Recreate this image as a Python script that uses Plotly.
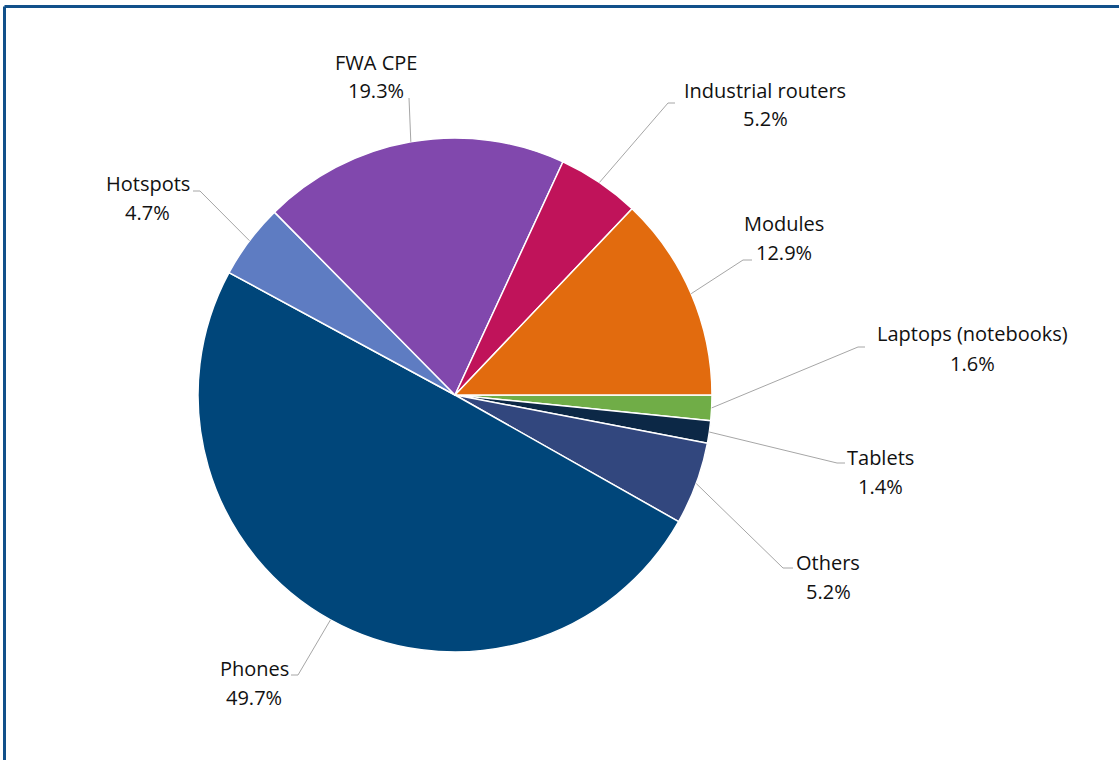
import math
import plotly.graph_objects as go

# Device shipment shares (%), listed clockwise starting at 3 o'clock
categories = ["Laptops (notebooks)", "Tablets", "Others", "Phones",
              "Hotspots", "FWA CPE", "Industrial routers", "Modules"]
shares = [1.6, 1.4, 5.2, 49.7, 4.7, 19.3, 5.2, 12.9]
colors = ["#70ad47", "#0c2846", "#32477e", "#00467a",
          "#5e7cc2", "#8148ad", "#c0135a", "#e26b0e"]

W, H = 1119, 760
CX, CY, R = 455, 395, 257  # pie centre and radius in pixels

# label layout (pixels): elbow of leader, end of leader, label centre x, line y's
label_layout = {
    "Laptops (notebooks)": dict(elbow=(858, 347), end=(865, 347), x=972, y=(334, 363)),
    "Tablets":             dict(elbow=(837, 463), end=(845, 463), x=880, y=(457, 486)),
    "Others":              dict(elbow=(783, 568), end=(793, 568), x=828, y=(562, 591)),
    "Phones":              dict(elbow=(298, 675), end=(291, 675), x=254, y=(668, 697)),
    "Hotspots":            dict(elbow=(200, 191), end=(193, 191), x=148, y=(184, 213)),
    "FWA CPE":             dict(elbow=(409, 98), end=(409, 98), x=376, y=(62, 91)),
    "Industrial routers":  dict(elbow=(668, 103), end=(675, 103), x=765, y=(90, 119)),
    "Modules":             dict(elbow=(743, 260), end=(752, 260), x=784, y=(223, 253)),
}


def px(x):
    return x / W


def py(y):
    return 1 - y / H


fig = go.Figure(go.Pie(
    labels=categories,
    values=shares,
    sort=False,
    direction="clockwise",
    rotation=90,
    marker=dict(colors=colors, line=dict(color="white", width=1.5)),
    textinfo="none",
    hoverinfo="label+percent",
    showlegend=False,
    domain=dict(x=[px(CX - R), px(CX + R)], y=[py(CY + R), py(CY - R)]),
))

shapes = []
annotations = []
total = sum(shares)
cum = 0.0
font = dict(family="'Open Sans', sans-serif", size=20, color="#111111")
for name, v in zip(categories, shares):
    mid = (cum + v / 2) / total
    cum += v
    theta = 2 * math.pi * mid  # clockwise from east
    ax = CX + R * math.cos(theta)
    ay = CY + R * math.sin(theta)
    lay = label_layout[name]
    ex, ey = lay["elbow"]
    tx, ty = lay["end"]
    line = dict(color="#a6a6a6", width=1)
    shapes.append(dict(type="line", xref="paper", yref="paper",
                       x0=px(ax), y0=py(ay), x1=px(ex), y1=py(ey), line=line))
    if (tx, ty) != (ex, ey):
        shapes.append(dict(type="line", xref="paper", yref="paper",
                           x0=px(ex), y0=py(ey), x1=px(tx), y1=py(ty), line=line))
    for text, yy in zip([name, f"{v:.1f}%"], lay["y"]):
        annotations.append(dict(text=text, x=px(lay["x"]), y=py(yy),
                                xref="paper", yref="paper",
                                xanchor="center", yanchor="middle",
                                showarrow=False, font=font))

# frame edges (top and left)
frame = dict(color="#11508a", width=3)
shapes.append(dict(type="line", xref="paper", yref="paper",
                   x0=px(4.5), y0=py(6.5), x1=1.01, y1=py(6.5), line=frame))
shapes.append(dict(type="line", xref="paper", yref="paper",
                   x0=px(4.5), y0=py(6.5), x1=px(4.5), y1=-0.01, line=frame))

fig.update_layout(
    width=W, height=H,
    margin=dict(l=0, r=0, t=0, b=0),
    paper_bgcolor="white",
    plot_bgcolor="white",
    shapes=shapes,
    annotations=annotations,
)

fig.write_html("out.html")
